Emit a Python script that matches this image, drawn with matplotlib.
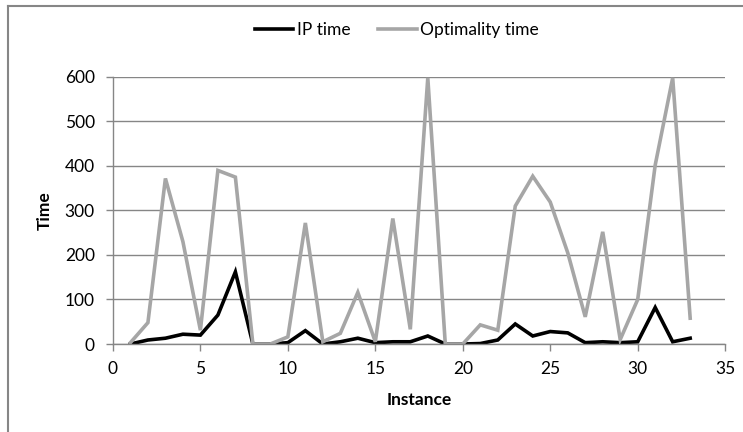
import matplotlib
matplotlib.use('Agg')
import matplotlib.pyplot as plt
from matplotlib.lines import Line2D

# Tiempos por instancia
instancias = list(range(1, 34))
ip_time = [0, 9, 13, 22, 20, 65, 162, 0, 0, 3, 30, 0,
           5, 13, 3, 5, 5, 18, 0, 0, 1, 9, 45, 18, 28, 25,
           3, 5, 3, 5, 82, 5, 13]
optimality_time = [3, 48, 372, 230, 31, 390, 375, 0, 0, 16, 272, 5,
                   24, 116, 5, 282, 33, 598, 0, 0, 43, 31, 310, 377, 319, 205,
                   61, 252, 10, 100, 402, 598, 58]

plt.rcParams['font.family'] = ['Lato', 'DejaVu Sans']

fig = plt.figure(figsize=(7.43, 4.32), dpi=100)
ax = fig.add_axes([0.152, 0.2037, 0.824, 0.6181])

gris_eje = '#868686'
ax.plot(instancias, ip_time, color='black', lw=2.6, label='IP time', solid_joinstyle='miter')
ax.plot(instancias, optimality_time, color='#A6A6A6', lw=2.6, label='Optimality time',
        solid_joinstyle='miter')

ax.set_xlim(0, 35)
ax.set_ylim(0, 600)
ax.set_xticks(range(0, 36, 5))
ax.set_yticks(range(0, 601, 100))
ax.yaxis.grid(True, color=gris_eje, lw=1)
ax.set_axisbelow(True)

for lado in ['top', 'right']:
    ax.spines[lado].set_visible(False)
for lado in ['left', 'bottom']:
    ax.spines[lado].set_color(gris_eje)
    ax.spines[lado].set_linewidth(1)
ax.tick_params(axis='both', colors=gris_eje, length=5, width=1, labelsize=12.5,
               labelcolor='black')
ax.tick_params(axis='y', pad=8)
ax.tick_params(axis='x', pad=7)

ax.set_xlabel('Instance', fontsize=12.5, fontweight='bold', labelpad=11)
ax.set_ylabel('Time', fontsize=12.5, fontweight='bold', labelpad=9)

fig.legend(handles=ax.get_lines(), loc='center', bbox_to_anchor=(397 / 743, 1 - 30 / 432),
           ncol=2, frameon=False, fontsize=12.5, handlelength=2.2, handletextpad=0.2,
           columnspacing=1.6)

# Marco del área del gráfico
fig.add_artist(Line2D([8 / 743, 8 / 743], [0, 1 - 6 / 432], color=gris_eje, lw=1.5))
fig.add_artist(Line2D([8 / 743, 1], [1 - 6 / 432, 1 - 6 / 432], color=gris_eje, lw=1.5))

plt.savefig('out.png', dpi=100)
plt.close()
